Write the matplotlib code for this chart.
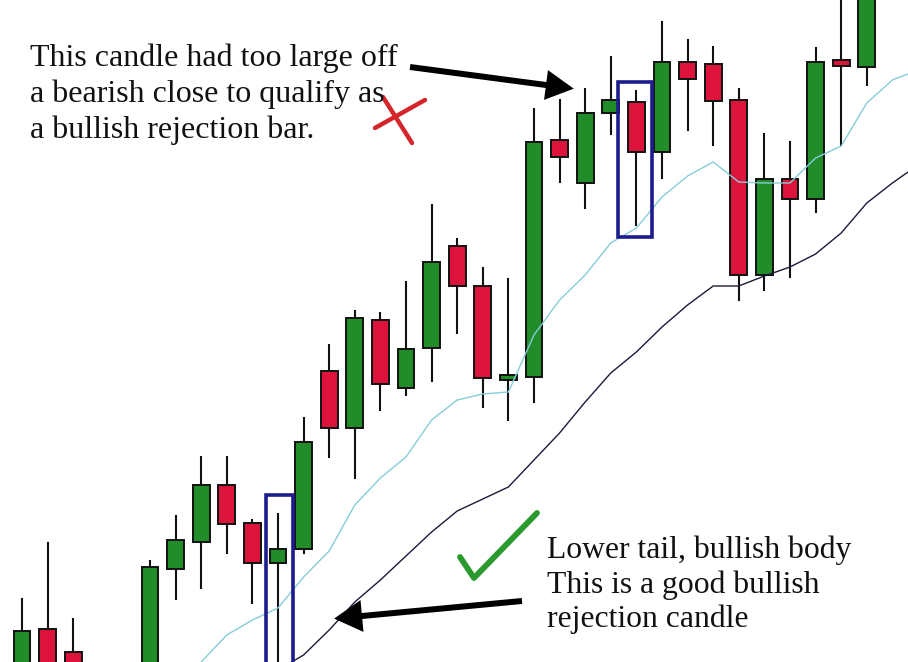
import numpy as np
import matplotlib.pyplot as plt
from matplotlib.patches import Rectangle, FancyArrow

# candle data (price units, index = bar number; bars 3,4 are off screen)
idx   = [0, 1, 2, 5, 6, 7, 8, 9, 10, 11, 12, 13, 14, 15, 16, 17, 18, 19, 20,
         21, 22, 23, 24, 25, 26, 27, 28, 29, 30, 31, 32, 33]
opens = [-18, 33, 10, -38, 93, 120, 177, 139, 99, 113, 291, 234, 342, 274, 314, 416, 376, 282, 285,
         522, 479, 549, 560, 510, 600, 598, 562, 387, 483, 463, 602, 595]
highs = [63, 119, 43, 101, 146, 205, 205, 142, 148, 244, 317, 351, 349, 380, 457, 423, 394, 383, 553,
         562, 573, 605, 571, 640, 622, 615, 573, 528, 520, 614, 667, 682]
lows  = [-28, -38, -38, -48, 63, 74, 109, 59, -18, 109, 205, 184, 252, 267, 281, 329, 255, 242, 260,
         480, 454, 528, 437, 484, 532, 517, 362, 372, 385, 450, 517, 577]
closes = [31, -28, -28, 95, 122, 177, 138, 99, 113, 220, 234, 344, 278, 313, 400, 376, 284, 287, 520,
          505, 549, 562, 510, 600, 583, 561, 387, 483, 463, 600, 596, 672]

# moving averages
fast_idx = list(range(6, 36))
fast_ma = [-25, 0, 27, 42, 54, 85, 111, 157, 184, 205, 242, 262, 268, 270, 327, 362, 387, 419, 434,
           465, 486, 500, 480, 479, 479, 504, 516, 559, 582, 592]
slow_idx = list(range(10, 36))
slow_ma = [-8, 7, 32, 60, 82, 106, 130, 151, 163, 175, 202, 229, 260, 289, 310, 335, 357, 376, 376,
           386, 395, 408, 429, 459, 479, 497]

# highlighted candles: (left, right, bottom, top)
boxes = [(9.53, 10.59, -20, 167), (23.28, 24.61, 425, 580)]

top_note = ["This candle had too large off",
            "a bearish close to qualify as",
            "a bullish rejection bar."]
bottom_note = ["Lower tail, bullish body",
               "This is a good bullish",
               "rejection candle"]

GREEN = '#228b2a'
RED = '#dc143c'

fig = plt.figure(figsize=(9.08, 6.62), dpi=100)
ax = fig.add_axes([0, 0, 1, 1])
ax.set_xlim(-0.859, 34.61)
ax.set_ylim(0, 662)
ax.axis('off')

w = 0.66
for i, o, h, l, c in zip(idx, opens, highs, lows, closes):
    ax.plot([i, i], [l, h], color='#111111', lw=1.5, zorder=1)
    col = GREEN if c >= o else RED
    ax.add_patch(Rectangle((i - w / 2, min(o, c)), w, abs(c - o), facecolor=col,
                           edgecolor='#111111', lw=1.4, zorder=2))

ax.plot(fast_idx, fast_ma, color='#86cdd6', lw=1.0, zorder=3)
ax.plot(slow_idx, slow_ma, color='#1a1a3a', lw=1.0, zorder=3)

for x0, x1, y0, y1 in boxes:
    ax.add_patch(Rectangle((x0, y0), x1 - x0, y1 - y0, fill=False,
                           edgecolor='#1c1c8c', lw=2.6, zorder=4))

# annotation layer in pixel coordinates
ann = fig.add_axes([0, 0, 1, 1])
ann.set_xlim(0, 908)
ann.set_ylim(662, 0)
ann.axis('off')
ann.patch.set_alpha(0)

for k, s in enumerate(top_note):
    ann.text(30, 66 + 36 * k, s, fontsize=23, family='Liberation Serif',
             color='#111111', va='baseline', ha='left')
for k, s in enumerate(bottom_note):
    ann.text(547, 558 + 34.5 * k, s, fontsize=22.8, family='Liberation Serif',
             color='#111111', va='baseline', ha='left')

ann.add_patch(FancyArrow(410, 67, 136, 18, width=6, head_width=30, head_length=28,
                         length_includes_head=False, color='black', lw=0))
ann.add_patch(FancyArrow(522, 601, -160, 15, width=6, head_width=32, head_length=28,
                         length_includes_head=False, color='black', lw=0))

# red cross
ann.plot([375, 425], [128, 100], color='#d4252b', lw=3.2, solid_capstyle='round')
ann.plot([383, 412], [97, 143], color='#d4252b', lw=3.2, solid_capstyle='round')
# green tick
ann.plot([460, 474, 537], [557, 578, 513], color='#2a9a2e', lw=4.2,
         solid_capstyle='round', solid_joinstyle='round')

fig.savefig('out.png', dpi=100)
